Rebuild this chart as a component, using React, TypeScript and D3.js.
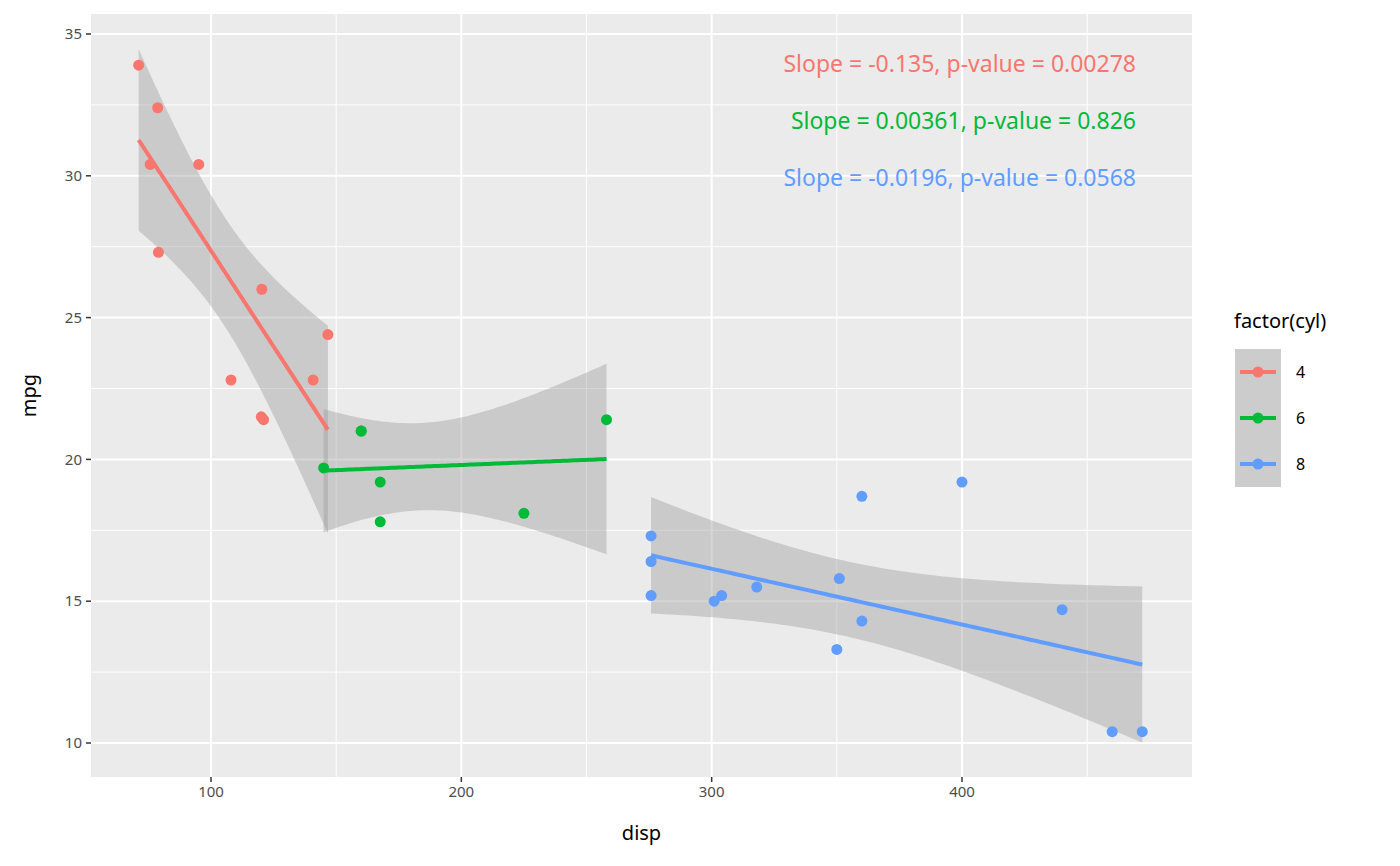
import React from "react";
import * as d3 from "d3";

const cyl4Disp = [108, 146.7, 140.8, 78.7, 75.7, 71.1, 120.1, 79, 120.3, 95.1, 121];
const cyl4Mpg = [22.8, 24.4, 22.8, 32.4, 30.4, 33.9, 21.5, 27.3, 26, 30.4, 21.4];
const cyl6Disp = [160, 160, 258, 225, 167.6, 167.6, 145];
const cyl6Mpg = [21, 21, 21.4, 18.1, 19.2, 17.8, 19.7];
const cyl8Disp = [360, 360, 275.8, 275.8, 275.8, 472, 460, 440, 318, 304, 350, 400, 351, 301];
const cyl8Mpg = [18.7, 14.3, 16.4, 17.3, 15.2, 10.4, 10.4, 14.7, 15.5, 15.2, 13.3, 19.2, 15.8, 15];
const groupNames = ["4", "6", "8"];
const groupColors = ["#F8766D", "#00BA38", "#619CFF"];
const tQuantiles = [2.262157, 2.570582, 2.178813];
const annotations = [
  "Slope = -0.135, p-value = 0.00278",
  "Slope = 0.00361, p-value = 0.826",
  "Slope = -0.0196, p-value = 0.0568",
];
const xTicks = [100, 200, 300, 400];
const xMinor = [150, 250, 350, 450];
const yTicks = [10, 15, 20, 25, 30, 35];
const yMinor = [12.5, 17.5, 22.5, 27.5, 32.5];

const groups = [
  { x: cyl4Disp, y: cyl4Mpg },
  { x: cyl6Disp, y: cyl6Mpg },
  { x: cyl8Disp, y: cyl8Mpg },
];

function fit(xs: number[], ys: number[], t: number) {
  const n = xs.length;
  const mx = d3.mean(xs)!, my = d3.mean(ys)!;
  const sxx = d3.sum(xs, (v) => (v - mx) ** 2);
  const sxy = d3.sum(xs.map((v, i) => (v - mx) * (ys[i] - my)));
  const b = sxy / sxx, a = my - b * mx;
  const sse = d3.sum(xs.map((v, i) => (ys[i] - a - b * v) ** 2));
  const s = Math.sqrt(sse / (n - 2));
  const [lo, hi] = d3.extent(xs) as [number, number];
  const pts = d3.range(80).map((i) => {
    const x = lo + ((hi - lo) * i) / 79;
    const yh = a + b * x;
    const se = s * Math.sqrt(1 / n + (x - mx) ** 2 / sxx);
    return { x, y: yh, lo: yh - t * se, hi: yh + t * se };
  });
  return pts;
}

export default function App() {
  const L = 91, R = 1192, T = 14, B = 777;
  const x = d3.scaleLinear().domain([100, 400]).range([211, 962]);
  const y = d3.scaleLinear().domain([10, 35]).range([743, 34]);
  const font = "'Noto Sans', 'Open Sans', sans-serif";
  const fits = groups.map((g, i) => fit(g.x, g.y, tQuantiles[i]));
  const area = d3.area<any>().x((d) => x(d.x)).y0((d) => y(d.lo)).y1((d) => y(d.hi));
  const line = d3.line<any>().x((d) => x(d.x)).y((d) => y(d.y));
  return (
    <svg width={1400} height={866} style={{ position: "absolute", left: 0, top: 0, background: "white" }} fontFamily={font}>
      <rect x={L} y={T} width={R - L} height={B - T} fill="#EBEBEB" />
      {xMinor.map((v) => <line key={"xm" + v} x1={x(v)} x2={x(v)} y1={T} y2={B} stroke="white" strokeWidth={1} />)}
      {yMinor.map((v) => <line key={"ym" + v} x1={L} x2={R} y1={y(v)} y2={y(v)} stroke="white" strokeWidth={1} />)}
      {xTicks.map((v) => <line key={"x" + v} x1={x(v)} x2={x(v)} y1={T} y2={B} stroke="white" strokeWidth={2} />)}
      {yTicks.map((v) => <line key={"y" + v} x1={L} x2={R} y1={y(v)} y2={y(v)} stroke="white" strokeWidth={2} />)}
      {fits.map((f, i) => <path key={"a" + i} d={area(f)!} fill="#999999" fillOpacity={0.4} />)}
      {groups.map((g, i) => g.x.map((v, j) => (
        <circle key={`p${i}-${j}`} cx={x(v)} cy={y(g.y[j])} r={5.5} fill={groupColors[i]} />
      )))}
      {fits.map((f, i) => <path key={"l" + i} d={line(f)!} fill="none" stroke={groupColors[i]} strokeWidth={4} />)}
      {annotations.map((t, i) => (
        <text key={"an" + i} x={1136} y={64 + i * 57} dy="0.35em" textAnchor="end" fontSize={23} fill={groupColors[i]}>{t}</text>
      ))}
      {xTicks.map((v) => (
        <g key={"xt" + v}>
          <line x1={x(v)} x2={x(v)} y1={B} y2={B + 5} stroke="#333" strokeWidth={1.5} />
          <text x={x(v)} y={B + 20} textAnchor="middle" fontSize={15} fill="#4D4D4D">{v}</text>
        </g>
      ))}
      {yTicks.map((v) => (
        <g key={"yt" + v}>
          <line x1={L - 5} x2={L} y1={y(v)} y2={y(v)} stroke="#333" strokeWidth={1.5} />
          <text x={L - 9} y={y(v)} dy="0.35em" textAnchor="end" fontSize={15} fill="#4D4D4D">{v}</text>
        </g>
      ))}
      <text x={(L + R) / 2} y={840} textAnchor="middle" fontSize={20}>disp</text>
      <text transform={`translate(36,${(T + B) / 2}) rotate(-90)`} textAnchor="middle" fontSize={20}>mpg</text>
      <text x={1234} y={328} fontSize={20}>factor(cyl)</text>
      {groupNames.map((nm, i) => {
        const cy = 372 + i * 46;
        return (
          <g key={"lg" + i}>
            <rect x={1235} y={cy - 23} width={46} height={46} fill="#CCCCCC" />
            <line x1={1240} x2={1276} y1={cy} y2={cy} stroke={groupColors[i]} strokeWidth={4} />
            <circle cx={1258} cy={cy} r={5.5} fill={groupColors[i]} />
            <text x={1296} y={cy} dy="0.35em" fontSize={16}>{nm}</text>
          </g>
        );
      })}
    </svg>
  );
}
